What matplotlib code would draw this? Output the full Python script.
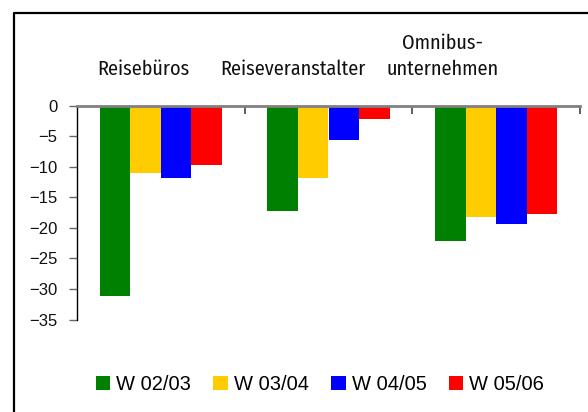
import matplotlib
matplotlib.use("Agg")
import matplotlib.pyplot as plt
from matplotlib.lines import Line2D
from matplotlib.patches import Patch
import numpy as np

# Werte
categories = ["Reisebüros", "Reiseveranstalter", "Omnibus-\nunternehmen"]
series = ["W 02/03", "W 03/04", "W 04/05", "W 05/06"]
w0203 = [-31.2, -17.2, -22.1]
w0304 = [-11.1, -11.8, -18.3]
w0405 = [-11.8, -5.6, -19.3]
w0506 = [-9.8, -2.2, -17.8]
colors = ["#008000", "#FFCC00", "#0000FF", "#FF0000"]
yticks = [0, -5, -10, -15, -20, -25, -30, -35]

W, H = 588, 412
fig = plt.figure(figsize=(W / 100, H / 100), dpi=100)
ax = fig.add_axes([77 / W, 1 - 319.5 / H, (580 - 77) / W, (319.5 - 105.5) / H])

x = np.arange(len(categories))
bw = 0.182
values = [w0203, w0304, w0405, w0506]
for i, (vals, col) in enumerate(zip(values, colors)):
    ax.bar(x + (i - 1.5) * bw, vals, width=bw, color=col, zorder=2)

ax.set_xlim(-0.5, 2.5)
ax.set_ylim(-35, 0)
ax.set_yticks(yticks)
ax.set_yticklabels([str(t).replace("-", "\u2212") for t in yticks],
                   family="Liberation Sans", fontsize=12, color="#111111")
ax.tick_params(axis="y", length=6, width=1, color="#666666", pad=8)

# zero line with ticks at category borders
for s in ["right", "bottom"]:
    ax.spines[s].set_visible(False)
ax.spines["top"].set_color("#808080")
ax.spines["top"].set_linewidth(2)
ax.spines["left"].set_color("black")
ax.spines["left"].set_linewidth(1)
ax.xaxis.tick_top()
ax.set_xticks([0.5, 1.5, 2.5])
ax.set_xticklabels([])
ax.tick_params(axis="x", direction="in", length=6, width=1.2, color="#444444")

# category labels above the zero line
label_x = [i - 0.107 * (i + 1) for i in range(len(categories))]
for lx, cat in zip(label_x, categories):
    ax.text(lx, 1.0 + 26 / (319.5 - 105.5), cat, transform=ax.get_xaxis_transform(),
            ha="center", va="bottom", family=["Fira Sans Condensed", "DejaVu Sans"],
            fontsize=14.5, linespacing=1.45, color="#111111")

handles = [Patch(facecolor=c, edgecolor="none") for c in colors]
fig.legend(handles, series, loc="center", bbox_to_anchor=(320 / W, 1 - 384.5 / H), ncol=4,
           frameon=False, prop={"family": "Liberation Sans", "size": 14.5},
           handlelength=0.72, handleheight=0.72, handletextpad=0.3, columnspacing=1.1,
           borderaxespad=0)

# outer frame (left and top edges visible)
fig.add_artist(Line2D([13.5 / W, 13.5 / W, 1.0], [0.0, 1 - 12.5 / H, 1 - 12.5 / H],
                      transform=fig.transFigure, color="black", linewidth=1.6))

fig.savefig("out.png", dpi=100)
